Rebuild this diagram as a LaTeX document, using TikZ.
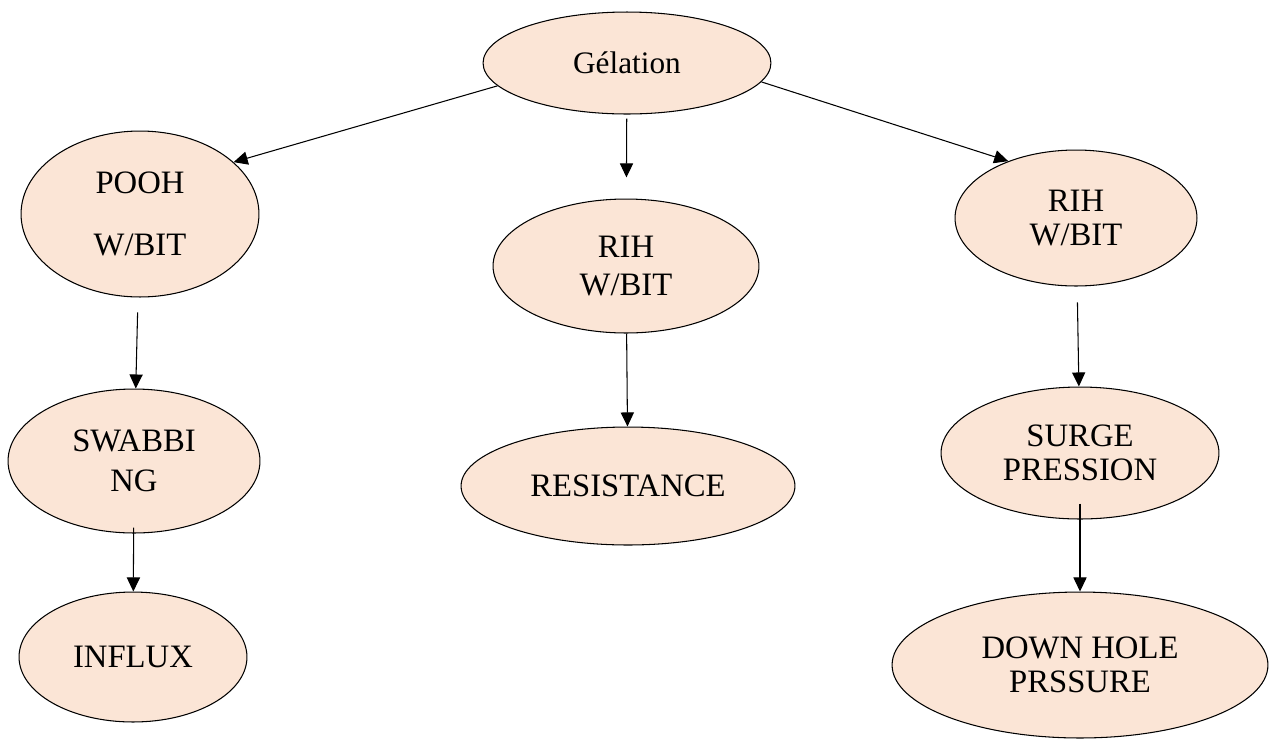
\documentclass[tikz,border=0pt]{standalone}
\usepackage{fontspec}
\setmainfont{Liberation Serif}
\usepackage{tikz}
\usetikzlibrary{arrows.meta,shapes.geometric}
\definecolor{peach}{RGB}{251,229,214}
\tikzset{
    vertex/.style 2 args={ellipse,draw,fill=peach,line width=0.6pt,inner sep=0pt,align=center,
        minimum width=#1*0.04cm,minimum height=#2*0.04cm,
        font=\fontsize{18.6pt}{19.3pt}\selectfont},
    edge/.style={-{Triangle[length=8pt,width=7.5pt]},line width=0.6pt}
    }

\begin{document}
\begin{tikzpicture}[x=0.02cm,y=-0.02cm]
        \useasboundingbox (0,0) rectangle (1270,738);

        % vertices
        \node[vertex={144}{51}, font=\fontsize{17.8pt}{19.3pt}\selectfont] (gel) at (627,63) {Gélation};
        \node[vertex={119}{83}] (pooh) at (140,214) {POOH\\[15.8pt] W/BIT};
        \node[vertex={133}{67}] (rihm) at (626,266) {RIH\\[2.8pt]W/BIT};
        \node[vertex={121}{68}] (rihr) at (1076,218) {RIH\\W/BIT};
        \node[vertex={126}{72}] (swab) at (134,461) {SWABBI\\[3.4pt]NG};
        \node[vertex={167}{59}] (resist) at (628,486) {RESISTANCE};
        \node[vertex={139}{66}] (surge) at (1080,453) {SURGE\\PRESSION};
        \node[vertex={114}{65}] (influx) at (133,657) {INFLUX};
        \node[vertex={188}{73}] (down) at (1080,665) {DOWN HOLE\\PRSSURE};

        %edges
        \draw[edge] (gel.190) -- (pooh.29);
        \draw[edge, shorten <=2.3pt, shorten >=12pt] (gel) -- (rihm);
        \draw[edge] (gel.352) -- (rihr.140);
        \draw[edge, shorten <=8.5pt] (pooh) -- (swab);
        \draw[edge, shorten <=-3.4pt] (swab) -- (influx);
        \draw[edge] (rihm) -- (resist);
        \draw[edge, shorten <=9pt] (rihr) -- (surge);
        \draw[edge, shorten <=-9pt] (surge) -- (down);
    \end{tikzpicture}
\end{document}
